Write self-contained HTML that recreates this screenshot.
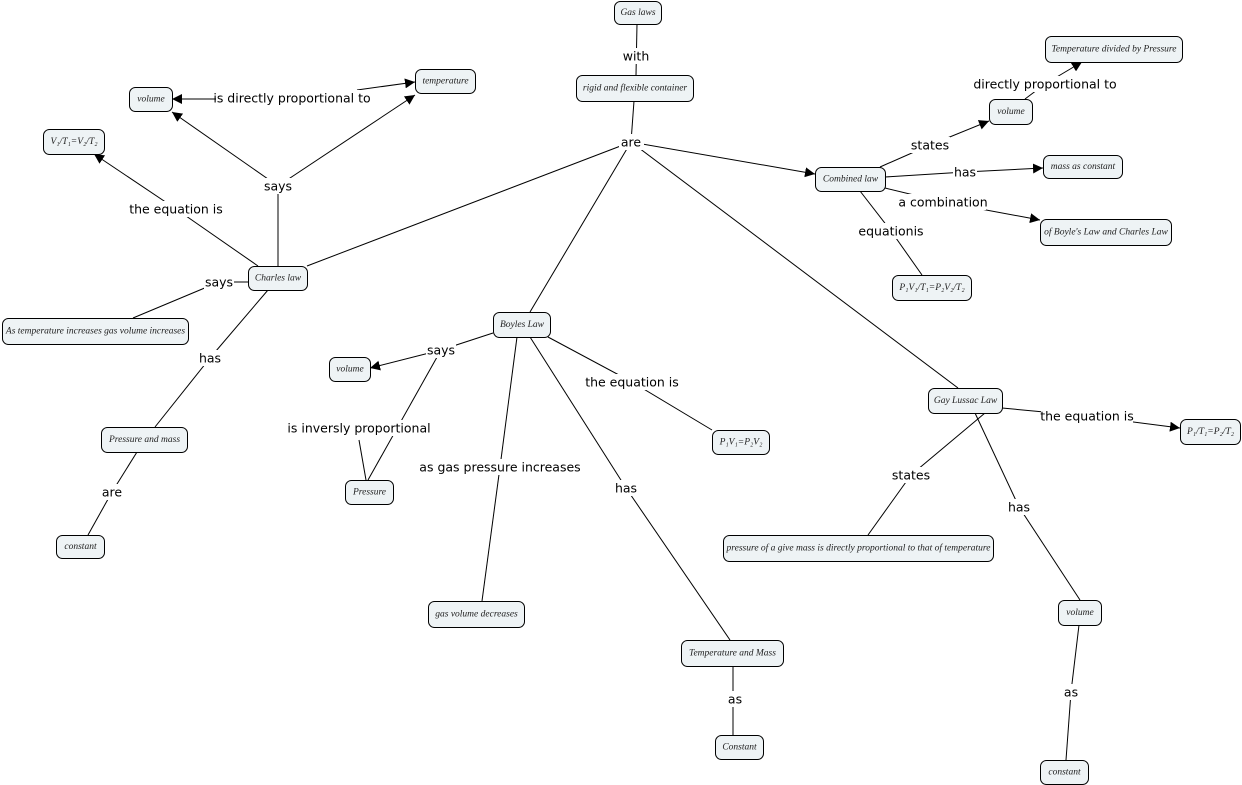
<!DOCTYPE html>
<html><head><meta charset="utf-8"><style>
html,body{margin:0;padding:0;background:#fff}
svg{display:block}
.n rect{fill:#eef3f5;stroke:#000;stroke-width:1}
.n text{font-family:"Liberation Serif",serif;font-style:italic;font-size:9.5px;fill:#222;text-anchor:middle;dominant-baseline:central}
.l{font-family:"DejaVu Sans","Liberation Sans",sans-serif;font-size:12.5px;fill:#000;text-anchor:middle;dominant-baseline:central}
line{stroke:#000;stroke-width:1}
</style></head><body>
<svg width="1242" height="785" viewBox="0 0 1242 785" xmlns="http://www.w3.org/2000/svg">
<defs><marker id="a" viewBox="0 0 10 10" refX="10" refY="5" markerWidth="10" markerHeight="10" markerUnits="userSpaceOnUse" orient="auto"><path d="M0,0L10,5L0,10z" fill="#000"/></marker></defs>
<g>
<line x1="637" y1="24" x2="636" y2="75"/>
<line x1="634" y1="101" x2="631" y2="142"/>
<line x1="631" y1="142" x2="307" y2="266"/>
<line x1="631" y1="142" x2="530" y2="312"/>
<line x1="631" y1="142" x2="815" y2="174" marker-end="url(#a)"/>
<line x1="631" y1="142" x2="958" y2="388"/>
<line x1="278" y1="266" x2="278" y2="186"/>
<line x1="278" y1="186" x2="172" y2="112" marker-end="url(#a)"/>
<line x1="278" y1="186" x2="415" y2="95" marker-end="url(#a)"/>
<line x1="216" y1="99" x2="172" y2="99" marker-end="url(#a)"/>
<line x1="357" y1="90" x2="415" y2="82" marker-end="url(#a)"/>
<line x1="258" y1="266" x2="176" y2="209"/>
<line x1="176" y1="209" x2="94" y2="154" marker-end="url(#a)"/>
<line x1="248" y1="282" x2="219" y2="282"/>
<line x1="219" y1="282" x2="133" y2="318"/>
<line x1="268" y1="290" x2="210" y2="358"/>
<line x1="210" y1="358" x2="155" y2="427"/>
<line x1="137" y1="452" x2="112" y2="492"/>
<line x1="112" y1="492" x2="88" y2="535"/>
<line x1="493" y1="333" x2="441" y2="350"/>
<line x1="441" y1="350" x2="370" y2="368" marker-end="url(#a)"/>
<line x1="441" y1="350" x2="368" y2="480"/>
<line x1="359" y1="440" x2="366" y2="480"/>
<line x1="517" y1="337" x2="500" y2="467"/>
<line x1="500" y1="467" x2="482" y2="601"/>
<line x1="548" y1="337" x2="632" y2="382"/>
<line x1="632" y1="382" x2="712" y2="430"/>
<line x1="530" y1="337" x2="626" y2="488"/>
<line x1="626" y1="488" x2="730" y2="640"/>
<line x1="733" y1="666" x2="733" y2="735"/>
<line x1="880" y1="167" x2="930" y2="145"/>
<line x1="930" y1="145" x2="989" y2="121" marker-end="url(#a)"/>
<line x1="1025" y1="99" x2="1045" y2="84"/>
<line x1="1045" y1="84" x2="1082" y2="62" marker-end="url(#a)"/>
<line x1="885" y1="177" x2="965" y2="172"/>
<line x1="965" y1="172" x2="1043" y2="168" marker-end="url(#a)"/>
<line x1="885" y1="188" x2="943" y2="202"/>
<line x1="943" y1="202" x2="1040" y2="220" marker-end="url(#a)"/>
<line x1="860" y1="191" x2="891" y2="231"/>
<line x1="891" y1="231" x2="922" y2="275"/>
<line x1="1002" y1="408" x2="1087" y2="416"/>
<line x1="1087" y1="416" x2="1180" y2="428" marker-end="url(#a)"/>
<line x1="985" y1="413" x2="911" y2="475"/>
<line x1="911" y1="475" x2="868" y2="535"/>
<line x1="975" y1="413" x2="1019" y2="507"/>
<line x1="1019" y1="507" x2="1080" y2="600"/>
<line x1="1079" y1="625" x2="1071" y2="692"/>
<line x1="1071" y1="692" x2="1066" y2="760"/>
</g>
<g fill="#fff">
<rect x="622" y="48" width="28" height="16"/>
<rect x="619" y="134" width="25" height="16"/>
<rect x="262" y="178" width="32" height="16"/>
<rect x="216" y="90" width="153" height="17"/>
<rect x="130" y="201" width="92" height="16"/>
<rect x="204" y="274" width="30" height="16"/>
<rect x="198" y="350" width="24" height="16"/>
<rect x="101" y="484" width="22" height="16"/>
<rect x="426" y="342" width="30" height="16"/>
<rect x="290" y="420" width="138" height="16"/>
<rect x="422" y="459" width="156" height="16"/>
<rect x="586" y="374" width="92" height="16"/>
<rect x="614" y="480" width="24" height="16"/>
<rect x="726" y="691" width="18" height="16"/>
<rect x="910" y="137" width="40" height="16"/>
<rect x="976" y="76" width="138" height="16"/>
<rect x="953" y="164" width="24" height="16"/>
<rect x="898" y="194" width="88" height="16"/>
<rect x="858" y="223" width="64" height="16"/>
<rect x="1041" y="408" width="92" height="16"/>
<rect x="892" y="467" width="38" height="16"/>
<rect x="1007" y="499" width="24" height="16"/>
<rect x="1062" y="684" width="18" height="16"/>
</g>
<g>
<text class="l" x="636" y="56">with</text>
<text class="l" x="631" y="142">are</text>
<text class="l" x="278" y="186">says</text>
<text class="l" x="292" y="98">is directly proportional to</text>
<text class="l" x="176" y="209">the equation is</text>
<text class="l" x="219" y="282">says</text>
<text class="l" x="210" y="358">has</text>
<text class="l" x="112" y="492">are</text>
<text class="l" x="441" y="350">says</text>
<text class="l" x="359" y="428">is inversly proportional</text>
<text class="l" x="500" y="467">as gas pressure increases</text>
<text class="l" x="632" y="382">the equation is</text>
<text class="l" x="626" y="488">has</text>
<text class="l" x="735" y="699">as</text>
<text class="l" x="930" y="145">states</text>
<text class="l" x="1045" y="84">directly proportional to</text>
<text class="l" x="965" y="172">has</text>
<text class="l" x="943" y="202">a combination</text>
<text class="l" x="891" y="231">equationis</text>
<text class="l" x="1087" y="416">the equation is</text>
<text class="l" x="911" y="475">states</text>
<text class="l" x="1019" y="507">has</text>
<text class="l" x="1071" y="692">as</text>
</g>
<g class="n">
<rect x="614.5" y="1.5" width="47" height="23" rx="6"/><text x="638" y="13">Gas laws</text>
<rect x="576.5" y="75.5" width="117" height="26" rx="6"/><text x="635" y="88.5">rigid and flexible container</text>
<rect x="129.5" y="87.5" width="43" height="24" rx="6"/><text x="151" y="99.5">volume</text>
<rect x="415.5" y="69.5" width="60" height="24" rx="6"/><text x="445.5" y="81.5">temperature</text>
<rect x="43.5" y="129.5" width="61" height="25" rx="6"/><text x="74" y="142">V₁/T₁=V₂/T₂</text>
<rect x="248.5" y="266.5" width="59" height="24" rx="6"/><text x="278" y="278.5">Charles law</text>
<rect x="2.5" y="318.5" width="186" height="26" rx="6"/><text x="95.5" y="331.5">As temperature increases gas volume increases</text>
<rect x="493.5" y="312.5" width="57" height="25" rx="6"/><text x="522" y="325">Boyles Law</text>
<rect x="329.5" y="357.5" width="41" height="24" rx="6"/><text x="350" y="369.5">volume</text>
<rect x="345.5" y="480.5" width="48" height="24" rx="6"/><text x="369.5" y="492.5">Pressure</text>
<rect x="101.5" y="427.5" width="86" height="25" rx="6"/><text x="144.5" y="440">Pressure and mass</text>
<rect x="56.5" y="535.5" width="48" height="23" rx="6"/><text x="80.5" y="547">constant</text>
<rect x="428.5" y="601.5" width="96" height="26" rx="6"/><text x="476.5" y="614.5">gas volume decreases</text>
<rect x="712.5" y="430.5" width="57" height="24" rx="6"/><text x="741" y="442.5">P₁V₁=P₂V₂</text>
<rect x="681.5" y="640.5" width="102" height="26" rx="6"/><text x="732.5" y="653.5">Temperature and Mass</text>
<rect x="715.5" y="735.5" width="48" height="24" rx="6"/><text x="739.5" y="747.5">Constant</text>
<rect x="815.5" y="167.5" width="70" height="24" rx="6"/><text x="850.5" y="179.5">Combined law</text>
<rect x="1045.5" y="36.5" width="137" height="26" rx="6"/><text x="1114" y="49.5">Temperature divided by Pressure</text>
<rect x="989.5" y="99.5" width="43" height="25" rx="6"/><text x="1011" y="112">volume</text>
<rect x="1043.5" y="155.5" width="79" height="23" rx="6"/><text x="1083" y="167">mass as constant</text>
<rect x="1040.5" y="219.5" width="131" height="26" rx="6"/><text x="1106" y="232.5">of Boyle's Law and Charles Law</text>
<rect x="892.5" y="275.5" width="79" height="25" rx="6"/><text x="932" y="288">P₁V₁/T₁=P₂V₂/T₂</text>
<rect x="928.5" y="388.5" width="74" height="25" rx="6"/><text x="965.5" y="401">Gay Lussac Law</text>
<rect x="1180.5" y="419.5" width="60" height="25" rx="6"/><text x="1210.5" y="432">P₁/T₁=P₂/T₂</text>
<rect x="723.5" y="535.5" width="270" height="26" rx="6"/><text x="858.5" y="548.5">pressure of a give mass is directly proportional to that of temperature</text>
<rect x="1058.5" y="600.5" width="43" height="25" rx="6"/><text x="1080" y="613">volume</text>
<rect x="1040.5" y="760.5" width="48" height="24" rx="6"/><text x="1064.5" y="772.5">constant</text>
</g>
</svg>
</body></html>
